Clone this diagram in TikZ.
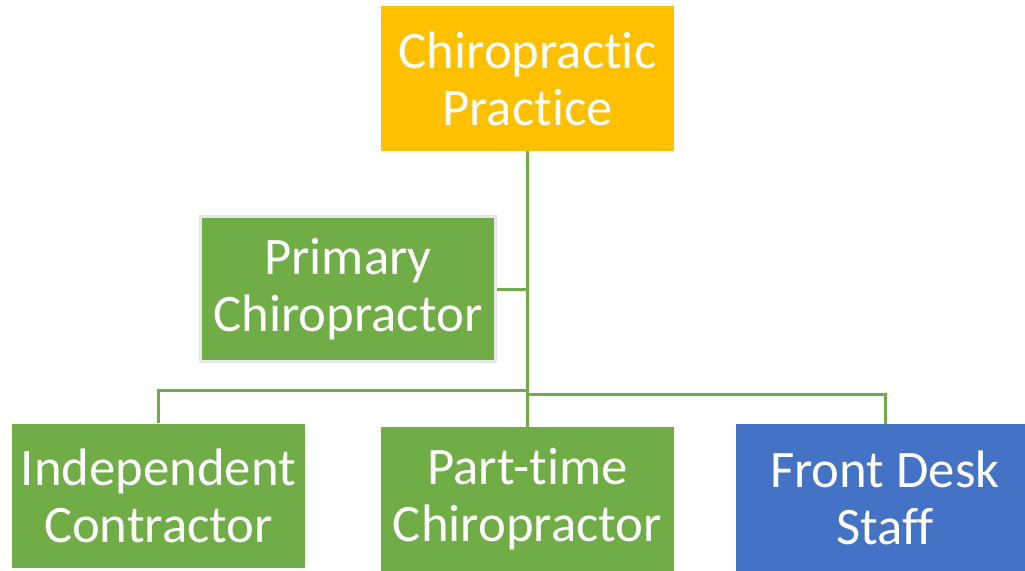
\documentclass[tikz,border=0pt]{standalone}
\usepackage{fontspec}
\setmainfont{Carlito}[Ligatures=NoCommon]
\definecolor{orgorange}{HTML}{FFC000}
\definecolor{orggreen}{HTML}{70AD47}
\definecolor{orgblue}{HTML}{4472C4}
\definecolor{orgrim}{HTML}{E7E6E6}
\begin{document}
\begin{tikzpicture}[x=0.02cm, y=-0.02cm]
\tikzset{ box/.style={minimum width=5.86cm, minimum height=2.9cm, inner sep=0pt,
            align=center, text=white, font=\fontsize{30}{32.5}\selectfont},
          link/.style={orggreen, line width=0.06cm} }

\clip (0,0) rectangle (1025,571);
\useasboundingbox (0,0) rectangle (1025,571);

\node [box, fill=orgorange] (top) at (527.5,78.5) {Chiropractic\\Practice};
\node [box, fill=orggreen, draw=orgrim, line width=0.05cm, minimum width=5.9cm]
      (primary) at (348,289) {Primary\\Chiropractor};
\node [box, fill=orggreen] (indep) at (158.5,496) {Independent\\Contractor};
\node [box, fill=orggreen] (part) at (527.5,499.5) {Part-time\\Chiropractor};
\node [box, fill=orgblue, minimum width=5.96cm, minimum height=2.96cm]
      (desk) at (885,498) {Front Desk\\Staff};

\coordinate (lj) at (527,390);
\coordinate (rj) at (527,394);

\draw [link] (top.south) -- (top.south |- part.north);
\draw [link] (primary.east) -- (primary.east -| top.south);
\draw [link] (lj) -| (indep.north);
\draw [link] (rj) -| (desk.north);

\end{tikzpicture}
\end{document}
